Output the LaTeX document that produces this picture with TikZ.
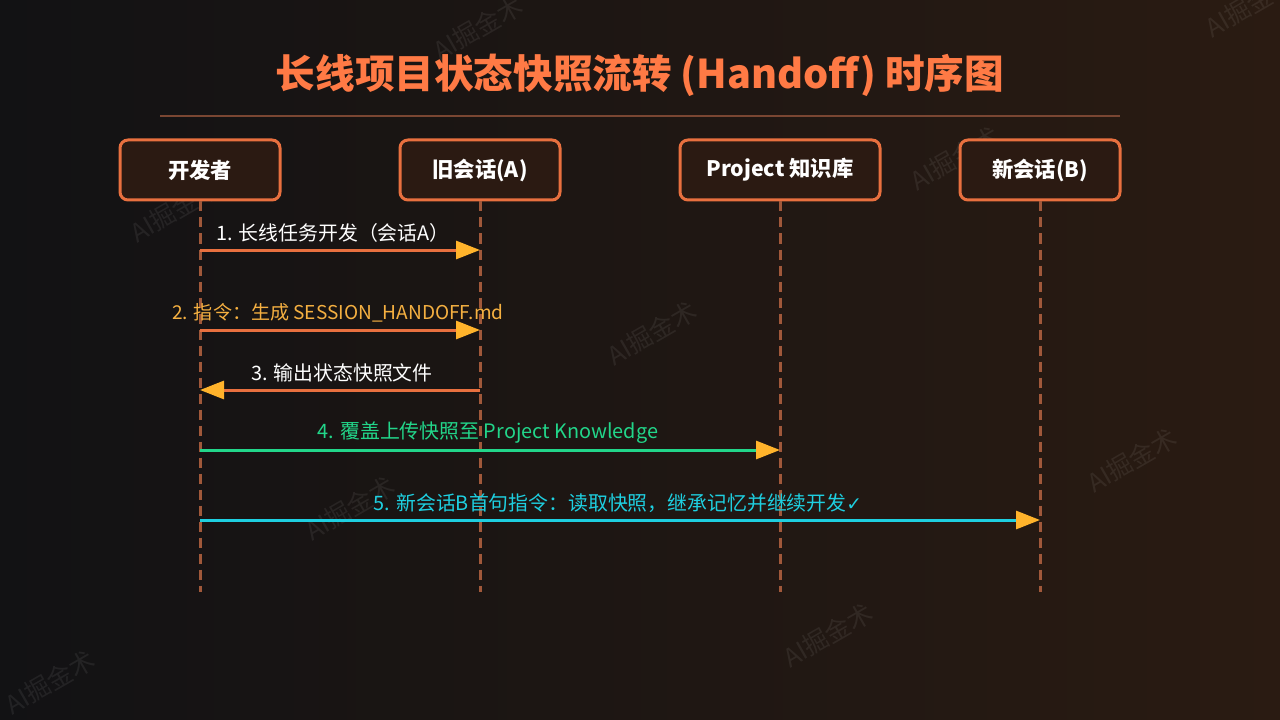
\documentclass[tikz,border=0pt]{standalone}
\usepackage{fontspec}
\setmainfont{Noto Sans CJK SC}
\newfontfamily\cjk{Noto Sans CJK SC}
\newfontfamily\djv{DejaVu Sans}
\usetikzlibrary{arrows.meta}
\definecolor{bgL}{HTML}{121214}
\definecolor{bgR}{HTML}{2A1B12}
\definecolor{titleC}{HTML}{FF7A45}
\definecolor{ruleC}{HTML}{7A4632}
\definecolor{boxB}{HTML}{E8703F}
\definecolor{boxF}{HTML}{2B1A12}
\definecolor{lifeC}{HTML}{A0583A}
\definecolor{lineO}{HTML}{E8703F}
\definecolor{headY}{HTML}{FFB32B}
\definecolor{lblY}{HTML}{F5B041}
\definecolor{lineG}{HTML}{22D68A}
\definecolor{lineC}{HTML}{1ECFE0}
\tikzset{
  actor/.style={draw=boxB, line width=2.25pt, fill=boxF, rounded corners=6pt,
    minimum width=120pt, minimum height=45pt, text=white,
    font=\cjk\bfseries\fontsize{16}{18}\selectfont, inner sep=0pt},
  pactor/.style={actor, minimum width=150pt},
  life/.style={draw=lifeC, line width=2.25pt, dash pattern=on 7.5pt off 4.5pt},
  msg/.style={line width=2.25pt, -{Triangle[length=18pt,width=13.5pt,color=headY]}},
  lbl/.style={font=\cjk\fontsize{14.9}{17}\selectfont, inner sep=0pt},
  wm/.style={rotate=30, text=white, opacity=0.07, font=\cjk\fontsize{19}{20}\selectfont}
}
\begin{document}
\begin{tikzpicture}[x=0.75pt,y=-0.75pt]
\useasboundingbox (0,0) rectangle (1280,720);
\shade[left color=bgL, right color=bgR] (0,0) rectangle (1280,720);
% watermarks
\node[wm] (w1) at (478,28) {AI掘金术};
\node[wm] (w2) at (1250,5) {AI掘金术};
\node[wm] (w3) at (175,210) {AI掘金术};
\node[wm] (w4) at (955,158) {AI掘金术};
\node[wm] (w5) at (652,333) {AI掘金术};
\node[wm] (w6) at (1132,460) {AI掘金术};
\node[wm] (w7) at (350,508) {AI掘金术};
\node[wm] (w8) at (828,635) {AI掘金术};
\node[wm] (w9) at (50,682) {AI掘金术};
% title
\node[text=titleC, font=\cjk\bfseries\fontsize{29.7}{32}\selectfont] (title) at (640,75) {长线项目状态快照流转 (Handoff) 时序图};
\coordinate (r1) at (160,116);
\coordinate (r2) at (1120,116);
\draw[ruleC, line width=1.5pt] (r1) -- (r2);
% actors
\node[actor] (dev) at (200,170) {开发者};
\node[actor] (old) at (480,170) {旧会话(A)};
\node[pactor] (kb) at (780,170) {Project 知识库};
\node[actor] (new) at (1040,170) {新会话(B)};
% lifeline ends
\coordinate (devE) at (200,592);
\coordinate (oldE) at (480,592);
\coordinate (kbE) at (780,592);
\coordinate (newE) at (1040,592);
\draw[life] (dev.south) -- (devE);
\draw[life] (old.south) -- (oldE);
\draw[life] (kb.south) -- (kbE);
\draw[life] (new.south) -- (newE);
% message anchors
\coordinate (d1) at (200,250); \coordinate (o1) at (480,250);
\coordinate (d2) at (200,330); \coordinate (o2) at (480,330);
\coordinate (d3) at (200,390); \coordinate (o3) at (480,390);
\coordinate (d4) at (200,450); \coordinate (k4) at (780,450);
\coordinate (d5) at (200,520); \coordinate (n5) at (1040,520);
\draw[msg, draw=lineO] (d1) -- (o1);
\node[lbl, text=white] (m1) at (333,233) {1. 长线任务开发（会话A）};
\draw[msg, draw=lineO] (d2) -- (o2);
\node[lbl, text=lblY, font=\cjk\fontsize{14.3}{17}\selectfont] (m2) at (338,313) {2. 指令：生成 SESSION\_HANDOFF.md};
\draw[msg, draw=lineO] (o3) -- (d3);
\node[lbl, text=white] (m3) at (342,373) {3. 输出状态快照文件};
\draw[msg, draw=lineG] (d4) -- (k4);
\node[lbl, text=lineG] (m4) at (488,433) {4. 覆盖上传快照至 Project Knowledge};
\draw[msg, draw=lineC] (d5) -- (n5);
\node[lbl, text=lineC] (m5) at (618,503) {5. 新会话B首句指令：读取快照，继承记忆并继续开发{\djv\fontsize{14}{16}\selectfont ✓}};
\end{tikzpicture}
\end{document}
